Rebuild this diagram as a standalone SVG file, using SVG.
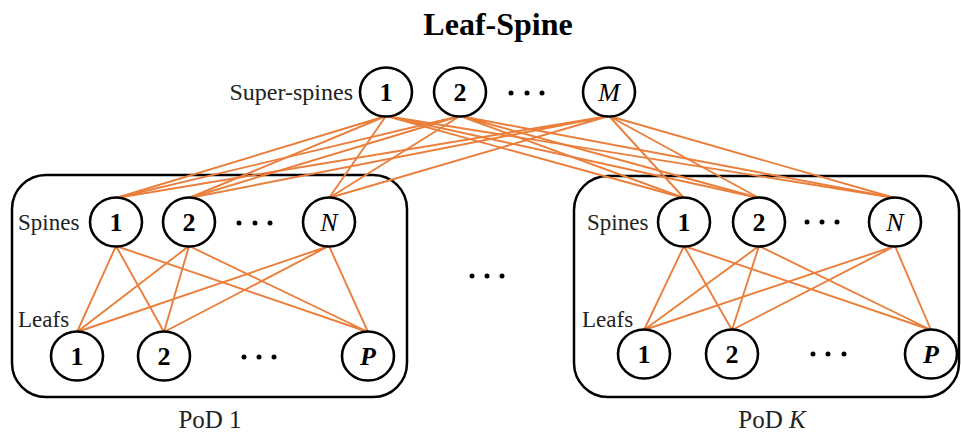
<svg xmlns="http://www.w3.org/2000/svg" width="961" height="434" viewBox="0 0 961 434">
<style>
.pod{fill:none;stroke:#000;stroke-width:2.5}
.nd{fill:#fff;stroke:#000;stroke-width:2.6}
.lb{font-family:"Liberation Serif","Times New Roman",serif;font-size:26px;font-weight:bold;text-anchor:middle;fill:#000}
.it{font-weight:normal;font-style:italic}
.bi{font-weight:bold;font-style:italic}
.tx{font-family:"Liberation Serif",serif;font-size:23px;fill:#222}
.ln{stroke:#EA7F3C;stroke-width:1.9;fill:none}
.dot{fill:#000}
</style>
<defs>
<ellipse id="c" cx="0" cy="0" rx="26" ry="24.5" class="nd"/>
</defs>
<text x="498" y="35" style="font-family:'Liberation Serif',serif;font-size:32px;font-weight:bold;text-anchor:middle">Leaf-Spine</text>

<g id="pod1-box"><rect class="pod" x="12" y="175" width="395" height="222" rx="34"/></g>
<g id="podK-box"><rect class="pod" x="574" y="176" width="385" height="221" rx="34"/></g>

<g id="connectors">
<path class="ln" d="M386 116L116 198M386 116L189 198M386 116L329 198M386 116L684 198M386 116L759 198M386 116L895 198"/>
<path class="ln" d="M460 116L116 198M460 116L189 198M460 116L329 198M460 116L684 198M460 116L759 198M460 116L895 198"/>
<path class="ln" d="M609 116L116 198M609 116L189 198M609 116L329 198M609 116L684 198M609 116L759 198M609 116L895 198"/>
<path class="ln" d="M116 246L77 332M116 246L164 332M116 246L368 332M189 246L77 332M189 246L164 332M189 246L368 332M329 246L77 332M329 246L164 332M329 246L368 332"/>
<path class="ln" d="M684 246L644 330M684 246L732 330M684 246L931 330M759 246L644 330M759 246L732 330M759 246L931 330M895 246L644 330M895 246L732 330M895 246L931 330"/>
</g>

<g id="super-spines">
<text class="tx" x="353" y="100" text-anchor="end" style="font-size:24px">Super-spines</text>
<g id="ss1"><use href="#c" x="386" y="92"/><text class="lb" x="386" y="101">1</text></g>
<g id="ss2"><use href="#c" x="460" y="92"/><text class="lb" x="460" y="101">2</text></g>
<g id="ssdots"><circle class="dot" cx="511" cy="93" r="2.5"/><circle class="dot" cx="527" cy="93" r="2.5"/><circle class="dot" cx="542" cy="93" r="2.5"/></g>
<g id="ssM"><use href="#c" x="609" y="92"/><text class="lb it" x="609" y="101">M</text></g>
</g>

<g id="pod1">
<text class="tx" x="18" y="230">Spines</text>
<g id="p1s1"><use href="#c" x="116" y="222"/><text class="lb" x="116" y="231">1</text></g>
<g id="p1s2"><use href="#c" x="189" y="222"/><text class="lb" x="189" y="231">2</text></g>
<g id="p1sdots"><circle class="dot" cx="239" cy="223" r="2.5"/><circle class="dot" cx="255" cy="223" r="2.5"/><circle class="dot" cx="270" cy="223" r="2.5"/></g>
<g id="p1sN"><use href="#c" x="329" y="222"/><text class="lb it" x="329" y="231">N</text></g>
<text class="tx" x="18" y="327">Leafs</text>
<g id="p1l1"><use href="#c" x="77" y="356"/><text class="lb" x="77" y="365">1</text></g>
<g id="p1l2"><use href="#c" x="164" y="356"/><text class="lb" x="164" y="365">2</text></g>
<g id="p1ldots"><circle class="dot" cx="244" cy="357" r="2.5"/><circle class="dot" cx="259" cy="357" r="2.5"/><circle class="dot" cx="274" cy="357" r="2.5"/></g>
<g id="p1lP"><use href="#c" x="368" y="356"/><text class="lb bi" x="368" y="365">P</text></g>
<text class="tx" x="210" y="428" text-anchor="middle" style="font-size:25px">PoD 1</text>
</g>

<g id="middots"><circle class="dot" cx="472" cy="276" r="2.5"/><circle class="dot" cx="487" cy="276" r="2.5"/><circle class="dot" cx="502" cy="276" r="2.5"/></g>

<g id="podK">
<text class="tx" x="587" y="230">Spines</text>
<g id="pKs1"><use href="#c" x="684" y="222"/><text class="lb" x="684" y="231">1</text></g>
<g id="pKs2"><use href="#c" x="759" y="222"/><text class="lb" x="759" y="231">2</text></g>
<g id="pKsdots"><circle class="dot" cx="807" cy="222" r="2.5"/><circle class="dot" cx="822" cy="222" r="2.5"/><circle class="dot" cx="837" cy="222" r="2.5"/></g>
<g id="pKsN"><use href="#c" x="895" y="222"/><text class="lb it" x="895" y="231">N</text></g>
<text class="tx" x="582" y="327">Leafs</text>
<g id="pKl1"><use href="#c" x="644" y="354"/><text class="lb" x="644" y="363">1</text></g>
<g id="pKl2"><use href="#c" x="732" y="354"/><text class="lb" x="732" y="363">2</text></g>
<g id="pKldots"><circle class="dot" cx="813" cy="354" r="2.5"/><circle class="dot" cx="828" cy="354" r="2.5"/><circle class="dot" cx="844" cy="354" r="2.5"/></g>
<g id="pKlP"><use href="#c" x="931" y="354"/><text class="lb bi" x="931" y="363">P</text></g>
<text class="tx" x="772" y="428" text-anchor="middle" style="font-size:25px">PoD <tspan font-style="italic">K</tspan></text>
</g>
</svg>
